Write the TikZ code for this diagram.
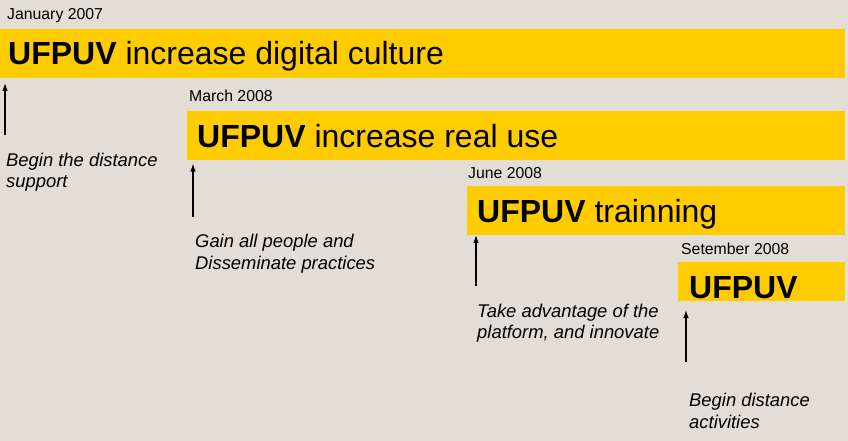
\documentclass[tikz,border=0pt]{standalone}
\usepackage{fontspec}
\setmainfont{Liberation Sans}
\usepackage{tikz}
\usetikzlibrary{arrows.meta, positioning, backgrounds}
\definecolor{ufyellow}{HTML}{FFCC00}
\definecolor{ufbg}{HTML}{E3DED5}
\tikzset{>={Latex[length=8pt,width=5.5pt]}}

\begin{document}
\begin{tikzpicture}[x=1pt,y=-1pt,
    bar/.style={fill=ufyellow,anchor=north west,inner sep=0,minimum width=#1},
    title/.style={anchor=base west,inner sep=0,font=\fontsize{32}{36}\selectfont},
    date/.style={anchor=base west,inner sep=0,font=\fontsize{15.8}{18}\selectfont},
    note/.style={anchor=base west,inner sep=0,align=left,font=\itshape\fontsize{18.4}{21.5}\selectfont},
    up/.style={->,line width=1.1pt}]
    \fill[ufbg] (0,0) rectangle (848,441);
    \useasboundingbox (0,0) rectangle (848,441);
    % bars
    \node[bar=845pt,minimum height=48.7pt] (bar1) at (0,29) {};
    \node[bar=658pt,minimum height=49pt] (bar2) at (187,110.7) {};
    \node[bar=378pt,minimum height=49pt] (bar3) at (467,185.7) {};
    \node[bar=167pt,minimum height=38.7pt] (bar4) at (678,262) {};
    % dates and titles
    \node[date] (jan) at (7,19.3) {January 2007};
    \node[title] (t1) at (8,65) {\textbf{UFPUV} increase digital culture};
    \node[date] (mar) at (189,102) {March 2008};
    \node[title] (t2) at (197,147.5) {\textbf{UFPUV} increase real use};
    \node[date] (jun) at (468,178.3) {June 2008};
    \node[title] (t3) at (477,222) {\textbf{UFPUV} trainning};
    \node[date] (sep) at (681,254) {Setember 2008};
    \node[title] (t4) at (689,298) {\textbf{UFPUV}};
    % notes (base = last line)
    \node[note] (n1) at (6,187.5) {Begin the distance\\support};
    \node[note] (n2) at (195,269.3) {Gain all people and\\Disseminate practices};
    \node[note] (n3) at (477,338.7) {Take advantage of the\\platform, and innovate};
    \node[note] (n4) at (689,428.2) {Begin distance\\activities};
    % arrows
    \coordinate (a1) at (5,135);   \coordinate (b1) at (5,83);
    \coordinate (a2) at (193,217); \coordinate (b2) at (193,163.5);
    \coordinate (a3) at (476,286); \coordinate (b3) at (476,235);
    \coordinate (a4) at (686,362); \coordinate (b4) at (686,310);
    \draw[up] (a1) -- (b1);
    \draw[up] (a2) -- (b2);
    \draw[up] (a3) -- (b3);
    \draw[up] (a4) -- (b4);
\end{tikzpicture}
\end{document}
